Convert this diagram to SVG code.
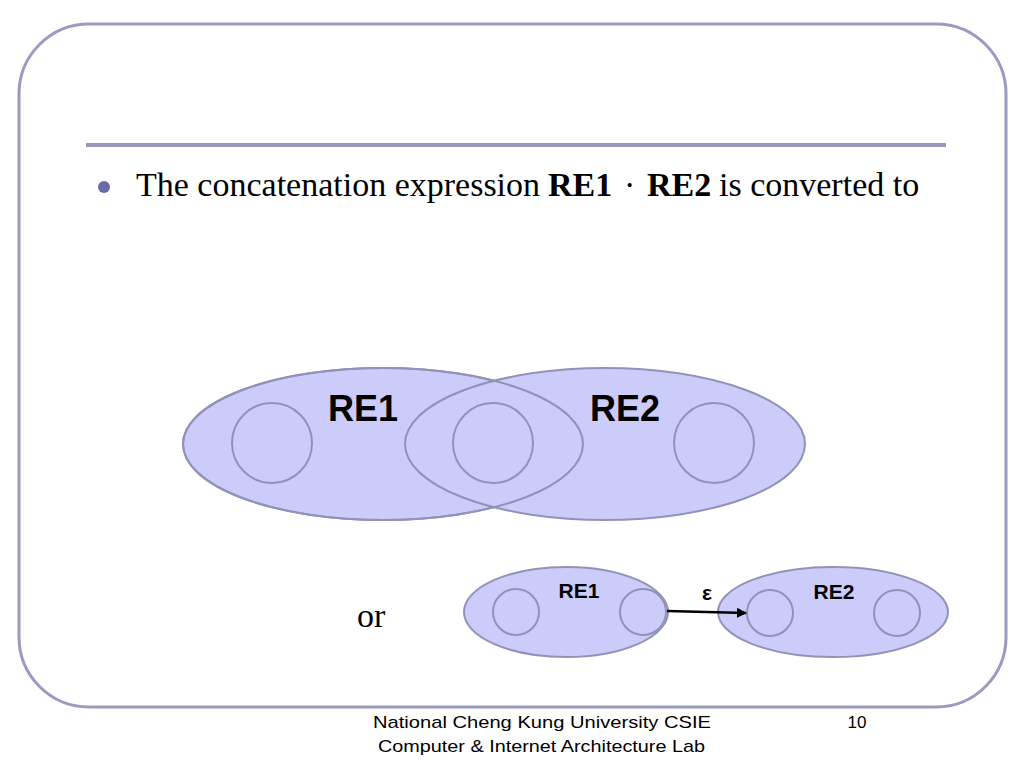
<svg xmlns="http://www.w3.org/2000/svg" width="1024" height="768" viewBox="0 0 1024 768">
<style>
.frame{fill:none;stroke:#9a9ac2;stroke-width:3}
.re{fill:#ccccfa;stroke:#9292b8;stroke-width:2}
.st{fill:none;stroke:#9292b8;stroke-width:2}
.big{font-family:"Liberation Sans",Arial,sans-serif;font-weight:bold;font-size:36px;text-anchor:middle;fill:#000}
.sm{font-family:"Liberation Sans",Arial,sans-serif;font-weight:bold;font-size:21px;text-anchor:middle;fill:#000}
.body{font-family:"Liberation Serif","Times New Roman",serif;font-size:34px;fill:#000}
.foot{font-family:"Liberation Sans",Arial,sans-serif;font-size:17px;fill:#000}
</style>
<defs>
<marker id="ah" viewBox="0 0 10 10" refX="9" refY="5" markerWidth="4" markerHeight="4" orient="auto">
<path d="M0,0 L10,5 L0,10 z" fill="#000"/>
</marker>
</defs>
<rect class="frame" x="19" y="24" width="987" height="683" rx="70" ry="70"/>
<line x1="86" y1="145" x2="946" y2="145" stroke="#9999bf" stroke-width="4"/>
<circle cx="104" cy="187" r="6" fill="#6a6aa8"/>
<text class="body" x="136" y="196">The concatenation expression <tspan x="548" font-weight="bold">RE1</tspan><tspan x="624">·</tspan><tspan x="647" font-weight="bold">RE2</tspan><tspan x="719">is converted to</tspan></text>

<g id="big-re1">
<ellipse class="re" cx="383" cy="444" rx="200" ry="76"/>
</g>
<g id="big-re2">
<ellipse class="re" cx="605" cy="444" rx="200" ry="76"/>
</g>
<ellipse class="st" cx="383" cy="444" rx="200" ry="76"/>
<g id="big-s1"><circle class="st" cx="272" cy="443" r="40"/></g>
<g id="big-s2"><circle class="st" cx="493" cy="443" r="40"/></g>
<g id="big-s3"><circle class="st" cx="714" cy="443" r="40"/></g>
<text class="big" x="363" y="421">RE1</text>
<text class="big" x="625" y="421">RE2</text>

<text class="body" x="357" y="627" font-size="46">or</text>

<g id="sm-re1">
<ellipse class="re" cx="566" cy="612" rx="102" ry="45"/>
<circle class="st" cx="516" cy="612" r="23"/>
<circle class="st" cx="643" cy="612" r="23"/>
<text class="sm" x="579" y="598">RE1</text>
</g>
<g id="sm-re2">
<ellipse class="re" cx="833" cy="612" rx="115" ry="45"/>
<circle class="st" cx="770" cy="613" r="23"/>
<circle class="st" cx="897" cy="613" r="23"/>
<text class="sm" x="834" y="599">RE2</text>
</g>
<g id="connectors">
<line x1="667" y1="611" x2="746" y2="613" stroke="#000" stroke-width="2.5" marker-end="url(#ah)"/>
<text class="sm" x="707" y="600" font-size="20">ε</text>
</g>

<text class="foot" x="373" y="728" textLength="338" lengthAdjust="spacingAndGlyphs">National Cheng Kung University CSIE</text>
<text class="foot" x="378" y="752" textLength="327" lengthAdjust="spacingAndGlyphs">Computer &amp; Internet Architecture Lab</text>
<text class="foot" x="857" y="728" text-anchor="middle" font-size="18">10</text>
</svg>
